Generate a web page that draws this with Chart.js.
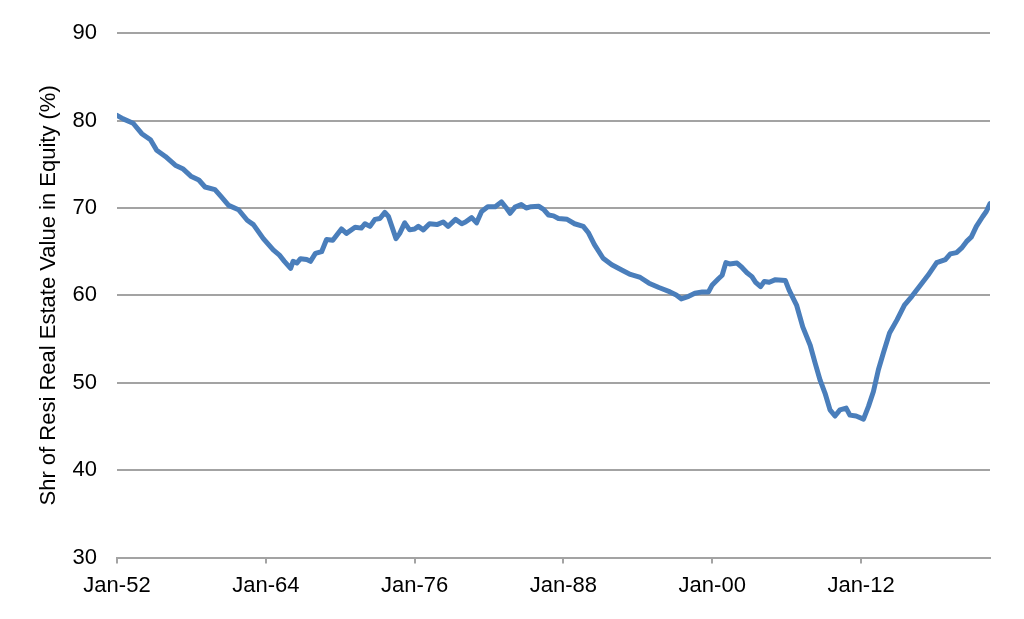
<!DOCTYPE html>
<html>
<head>
<meta charset="utf-8">
<script src="https://cdn.jsdelivr.net/npm/chart.js@4"></script>
<style>
  html, body { margin: 0; padding: 0; background: #fff; }
  #wrap { width: 1024px; height: 619px; }
</style>
</head>
<body>
<div id="wrap"><canvas id="chart"></canvas></div>
<script>
// years (decimal) and share of residential real estate value held as equity (%)
const years = [
  1952.0, 1952.5, 1953.3, 1954.0, 1954.7, 1955.2, 1955.9, 1956.7, 1957.3, 1958.0,
  1958.6, 1959.1, 1959.9, 1960.4, 1961.0, 1961.8, 1962.5, 1963.0, 1963.8, 1964.6,
  1965.1, 1965.5, 1966.0, 1966.2, 1966.5, 1966.8, 1967.3, 1967.6, 1968.0, 1968.5,
  1968.9, 1969.4, 1970.1, 1970.5, 1971.2, 1971.7, 1972.0, 1972.4, 1972.8, 1973.2,
  1973.6, 1973.9, 1974.5, 1974.8, 1975.2, 1975.6, 1976.0, 1976.3, 1976.7, 1977.2,
  1977.8, 1978.3, 1978.7, 1979.3, 1979.8, 1980.1, 1980.6, 1981.0, 1981.4, 1981.9,
  1982.5, 1983.0, 1983.4, 1983.7, 1984.1, 1984.6, 1985.0, 1985.4, 1986.0, 1986.4,
  1986.8, 1987.2, 1987.6, 1988.3, 1988.9, 1989.6, 1990.0, 1990.5, 1991.2, 1991.9,
  1992.7, 1993.4, 1994.2, 1994.9, 1995.7, 1996.6, 1997.1, 1997.5, 1998.1, 1998.6,
  1999.2, 1999.7, 2000.0, 2000.5, 2000.8, 2001.1, 2001.4, 2002.0, 2002.4, 2002.8,
  2003.2, 2003.5, 2003.9, 2004.2, 2004.6, 2005.1, 2005.9, 2006.2, 2006.8, 2007.3,
  2007.9, 2008.3, 2008.7, 2009.1, 2009.5, 2009.9, 2010.3, 2010.8, 2011.1, 2011.6,
  2012.2, 2012.6, 2013.0, 2013.4, 2013.8, 2014.3, 2014.9, 2015.5, 2016.1, 2016.8,
  2017.4, 2018.1, 2018.8, 2019.2, 2019.7, 2020.1, 2020.5, 2020.9, 2021.3, 2021.8,
  2022.1, 2022.4
];
const equityShare = [
  80.6, 80.2, 79.7, 78.5, 77.8, 76.6, 75.9, 74.9, 74.5, 73.6,
  73.2, 72.4, 72.1, 71.3, 70.3, 69.8, 68.6, 68.1, 66.5, 65.2,
  64.6, 63.9, 63.1, 63.9, 63.7, 64.2, 64.1, 63.9, 64.8, 65.0,
  66.4, 66.3, 67.6, 67.1, 67.8, 67.7, 68.2, 67.9, 68.7, 68.8,
  69.5, 69.0, 66.5, 67.1, 68.3, 67.5, 67.6, 67.9, 67.5, 68.2,
  68.1, 68.4, 67.9, 68.7, 68.2, 68.4, 68.9, 68.3, 69.6, 70.15,
  70.15, 70.7, 70.0, 69.4, 70.1, 70.4, 70.0, 70.15, 70.2, 69.85,
  69.2, 69.1, 68.8, 68.7, 68.2, 67.9, 67.2, 65.8, 64.25, 63.5,
  62.9, 62.4, 62.05, 61.4, 60.9, 60.4, 60.05, 59.6, 59.9, 60.25,
  60.4, 60.4, 61.2, 61.9, 62.3, 63.75, 63.6, 63.7, 63.2, 62.6,
  62.15, 61.5, 61.0, 61.6, 61.5, 61.8, 61.7, 60.6, 58.9, 56.4,
  54.3, 52.25, 50.3, 48.8, 46.9, 46.2, 46.9, 47.1, 46.3, 46.2,
  45.85, 47.3, 49.0, 51.5, 53.4, 55.7, 57.2, 58.9, 59.9, 61.2,
  62.3, 63.75, 64.1, 64.75, 64.9, 65.4, 66.15, 66.7, 67.9, 69.0,
  69.6, 70.5
];
const tickYears = [1952, 1964, 1976, 1988, 2000, 2012];
const yTitle = 'Shr of Resi Real Estate Value in Equity (%)';

const GRID = '#a3a3a3';
Chart.defaults.font.family = '"Liberation Sans", Arial, sans-serif';
Chart.defaults.font.size = 22;
Chart.defaults.color = '#000';

new Chart(document.getElementById('chart'), {
  type: 'line',
  data: {
    datasets: [{
      data: years.map((x, i) => ({ x: x, y: equityShare[i] })),
      borderColor: '#4a7ebb',
      borderWidth: 5,
      pointRadius: 0,
      tension: 0,
      borderJoinStyle: 'round',
      borderCapStyle: 'round'
    }]
  },
  options: {
    responsive: true,
    maintainAspectRatio: false,
    animation: false,
    layout: { padding: { left: 36, right: 34, top: 22, bottom: 11 } },
    plugins: { legend: { display: false }, tooltip: { enabled: false } },
    scales: {
      x: {
        type: 'linear',
        min: years[0],
        max: years[years.length - 1],
        afterBuildTicks: (axis) => { axis.ticks = tickYears.map(v => ({ value: v })); },
        ticks: {
          padding: 9,
          maxRotation: 0,
          autoSkip: false,
          callback: (v) => 'Jan-' + String(v).slice(2)
        },
        grid: { drawOnChartArea: false, color: GRID, lineWidth: 2, tickLength: 6 },
        border: { color: GRID, width: 2 }
      },
      y: {
        min: 30,
        max: 90,
        afterFit: (scale) => { scale.width = 81; },
        ticks: { stepSize: 10, padding: 20 },
        grid: { color: GRID, lineWidth: 2, drawTicks: false },
        border: { display: false },
        title: { display: true, text: yTitle, padding: { top: 0, bottom: 0 } }
      }
    }
  }
});
</script>
</body>
</html>
